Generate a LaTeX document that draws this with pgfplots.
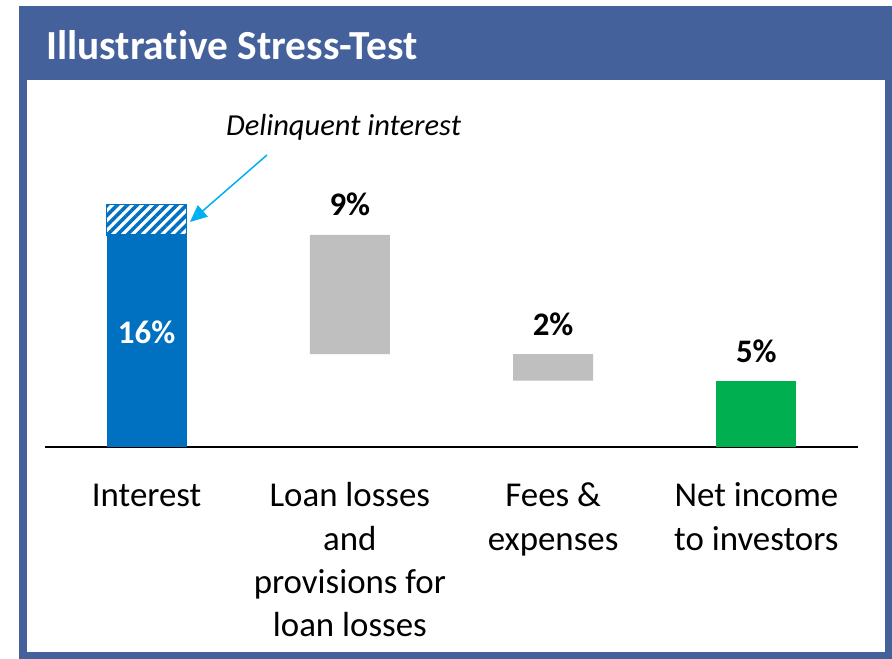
\documentclass[border=0pt]{standalone}
\usepackage{pgfplots}
\pgfplotsset{compat=1.18}
\usepackage{fontspec}
\setmainfont{Carlito}[Ligatures=NoCommon]
\usetikzlibrary{patterns.meta,arrows.meta}
\definecolor{hdr}{HTML}{44619B}
\definecolor{barblue}{HTML}{0070C0}
\definecolor{bargray}{HTML}{BFBFBF}
\definecolor{bargreen}{HTML}{00B050}
\definecolor{arrcyan}{HTML}{00B0F0}
\newcommand{\fr}{\rule{0pt}{30bp}}
\begin{document}
\begin{tikzpicture}[x=1bp,y=1bp]
\path[use as bounding box] (0,0) rectangle (892,659);
\fill[hdr] (19,0) rectangle (892,653);
\fill[white] (27,7) rectangle (885,579);
\node[anchor=base west, text=white, font=\fontsize{41.5}{48}\selectfont\bfseries, inner sep=0] at (46,599) {Illustrative Stress-Test};
\begin{axis}[
  at={(45bp,212bp)}, anchor=south west, scale only axis,
  width=813bp, height=265bp,
  xmin=-0.5, xmax=3.5, ymin=0, ymax=20,
  enlargelimits=false,
  ybar stacked, bar width=80bp,
  axis y line=none, axis x line*=bottom,
  x axis line style={-, line width=1.6bp, black},
  xtick={0,1,2,3},
  xticklabels={{\fr Interest}, {\fr Loan losses\\and\\provisions for\\loan losses}, {\fr Fees \&\\expenses}, {\fr Net income\\to investors}},
  major tick length=0,
  xticklabel style={align=center, anchor=north, inner sep=0pt, yshift=-29.5bp, font=\fontsize{35}{43.5}\selectfont},
  clip=false,
]
\addplot[draw=none, fill=none] coordinates {(0,0) (1,7) (2,5) (3,0)};
\addplot[draw=none, fill=barblue] coordinates {(0,16) (1,0) (2,0) (3,0)};
\addplot[draw=none, fill=bargray] coordinates {(0,0) (1,9) (2,2) (3,0)};
\addplot[draw=none, fill=bargreen] coordinates {(0,0) (1,0) (2,0) (3,5)};
\addplot[draw=barblue, line width=1.5bp, pattern={Lines[angle=45,distance=7bp,line width=3.5bp]}, pattern color=barblue] coordinates {(0,2.3)};
\coordinate (L16) at (axis cs:0,7.8);
\node[anchor=base, yshift=19bp, font=\fontsize{33}{40}\selectfont\bfseries] at (axis cs:1,16) {9\%};
\node[anchor=base, yshift=19bp, font=\fontsize{33}{40}\selectfont\bfseries] at (axis cs:2,7) {2\%};
\node[anchor=base, yshift=18bp, font=\fontsize{33}{40}\selectfont\bfseries] at (axis cs:3,5) {5\%};
\end{axis}
\node[anchor=base, text=white, font=\fontsize{33}{40}\selectfont\bfseries] at (L16) {16\%};
\node[anchor=base, font=\fontsize{30.6}{36}\selectfont\itshape] at (343.5,523) {Delinquent interest};
\draw[arrcyan, line width=1.5bp, -{Triangle[length=17bp,width=15bp]}] (267,504) -- (190,437);
\end{tikzpicture}
\end{document}
